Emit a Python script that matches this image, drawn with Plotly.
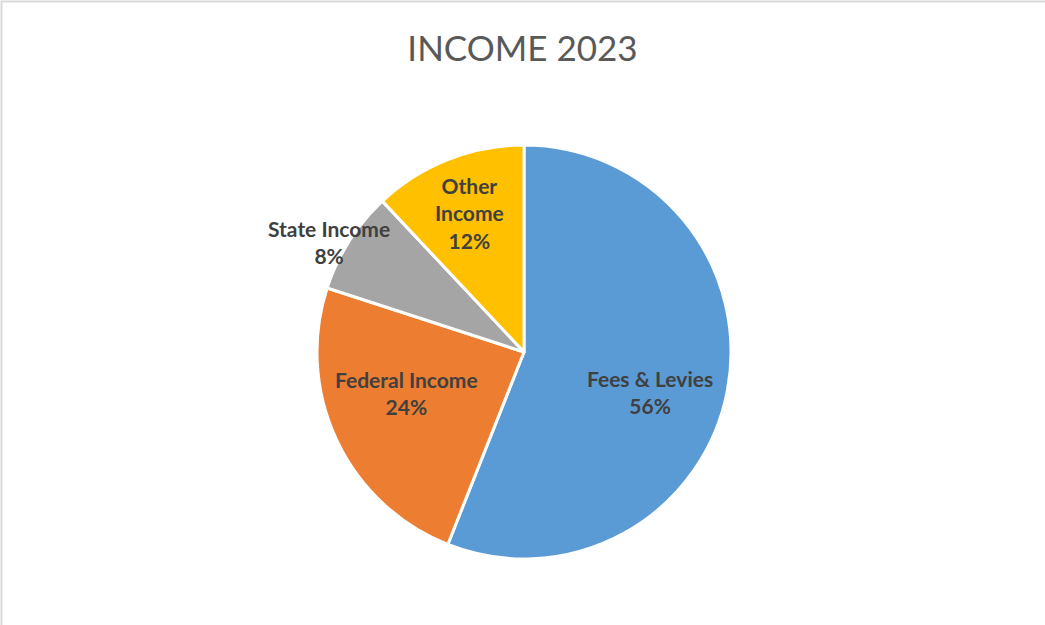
import math
import plotly.graph_objects as go

# Income sources for 2023
categories = ["Fees & Levies", "Federal Income", "State Income", "Other Income"]
shares = [56, 24, 8, 12]
label_text = ["Fees & Levies<br>56%", "Federal Income<br>24%", "State Income<br>8%", "Other<br>Income<br>12%"]

colors = ["#5B9BD5", "#ED7D31", "#A5A5A5", "#FFC000"]

W, H = 1045, 625
cx, cy, r = 524, 352, 207  # pie centre and radius in pixels

fig = go.Figure()
fig.add_trace(go.Pie(
    labels=categories,
    values=shares,
    sort=False,
    direction="clockwise",
    rotation=0,
    marker=dict(colors=colors, line=dict(color="white", width=3)),
    textinfo="none",
    hoverinfo="label+percent",
    showlegend=False,
    domain=dict(x=[(cx - r) / W, (cx + r) / W], y=[(H - cy - r) / H, (H - cy + r) / H]),
))

# Label placement: radial distance (fraction of radius) and angular nudge (deg)
placement = [(0.64, 7), (0.60, 6), (1.08, -3), (0.72, 0)]

total = sum(shares)
start = 0.0
for name, val, txt, (rf, nudge) in zip(categories, shares, label_text, placement):
    span = val / total * 360.0
    mid = math.radians(start + span / 2 + nudge)
    start += span
    px = cx + rf * r * math.sin(mid)
    py = cy - rf * r * math.cos(mid)
    fig.add_annotation(
        x=px / W, y=1 - py / H, xref="paper", yref="paper",
        text=f"<b>{txt}</b>", showarrow=False,
        font=dict(family="Lato", size=21, color="#404040"),
        xanchor="center", yanchor="middle", align="center",
    )

fig.update_layout(
    width=W, height=H,
    margin=dict(l=0, r=0, t=0, b=0),
    paper_bgcolor="white",
    title=dict(
        text="INCOME 2023", x=0.5, xanchor="center", y=1 - 49 / H, yanchor="middle",
        font=dict(family="Lato", size=35, color="#595959"),
    ),
    shapes=[dict(type="rect", xref="paper", yref="paper",
                 x0=1.5 / W, x1=1.02, y0=-0.02, y1=1 - 1.5 / H,
                 line=dict(color="#D9D9D9", width=2))],
)

fig.write_html("out.html")
